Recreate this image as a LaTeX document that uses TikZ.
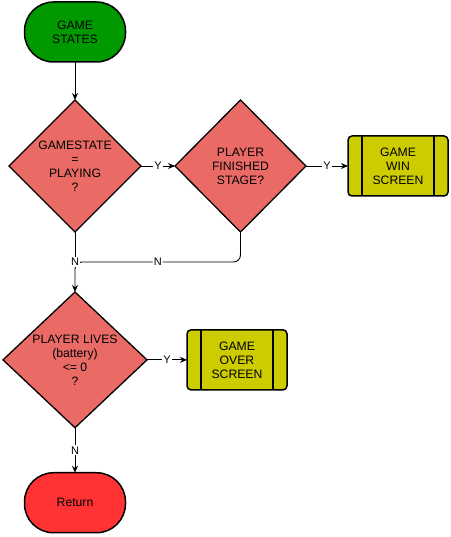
\documentclass[tikz,border=0pt]{standalone}
\usepackage{fontspec}
\setmainfont{Liberation Sans}
\usepackage{tikz}
\usetikzlibrary{positioning,arrows.meta,shapes.geometric}
\definecolor{startgreen}{RGB}{0,153,0}
\definecolor{decred}{RGB}{234,107,102}
\definecolor{screenyellow}{RGB}{204,204,0}
\definecolor{endred}{RGB}{255,51,51}

\begin{document}
\begin{tikzpicture}[
  x=1pt, y=1pt,
  every node/.style={font=\fontsize{12.2}{14}\selectfont, align=center, outer sep=0pt},
  terminal/.style={rectangle, draw, line width=1.5pt, rounded corners=29pt, minimum width=101pt, minimum height=60pt},
  decision/.style={diamond, draw, line width=1.3pt, fill=decred, inner sep=0pt},
  screen/.style={rectangle, draw, line width=1.5pt, fill=screenyellow, rounded corners=4pt, minimum width=100pt, minimum height=60pt},
  flow/.style={line width=0.9pt, -{Stealth[length=7pt,width=6pt]}},
  lbl/.style={fill=white, inner sep=1pt, font=\fontsize{11}{12}\selectfont}
]
  \useasboundingbox (0,0) rectangle (450,-537);

  \node[terminal, fill=startgreen] (start) at (75,-32) {GAME\\STATES};
  \node[decision, minimum width=132pt, minimum height=132pt, below=38pt of start] (playing) {GAMESTATE\\=\\PLAYING\\?};
  \node[decision, minimum width=131pt, minimum height=132pt, right=34pt of playing] (finished) {PLAYER\\FINISHED\\STAGE?};
  \node[screen, right=42pt of finished] (win) {GAME\\WIN\\SCREEN};
  \node[decision, minimum width=144pt, minimum height=135pt, below=60pt of playing] (lives) {PLAYER LIVES\\(battery)\\<= 0\\?};
  \node[screen, right=40pt of lives] (over) {GAME\\OVER\\SCREEN};
  \node[terminal, fill=endred, below=45pt of lives] (ret) {Return};

  % side bars of the screen boxes
  \foreach \b in {win,over} {
    \draw[line width=1.5pt] ([xshift=14pt]\b.north west) -- ([xshift=14pt]\b.south west);
    \draw[line width=1.5pt] ([xshift=-14pt]\b.north east) -- ([xshift=-14pt]\b.south east);
  }

  \coordinate (join) at (playing.south |- 0,-262);

  \draw[flow] (start) -- (playing);
  \draw[flow] (playing) -- node[lbl] {Y} (finished);
  \draw[flow] (finished) -- node[lbl] {Y} (win);
  \draw[flow, rounded corners=7pt] (finished.south) |- node[lbl, pos=0.75] {N} (join) -- (lives.north);
  \draw[line width=0.9pt] (playing.south) -- (join) node[lbl] {N};
  \draw[flow] (lives) -- node[lbl] {Y} (over);
  \draw[flow] (lives) -- node[lbl] {N} (ret);
\end{tikzpicture}
\end{document}
